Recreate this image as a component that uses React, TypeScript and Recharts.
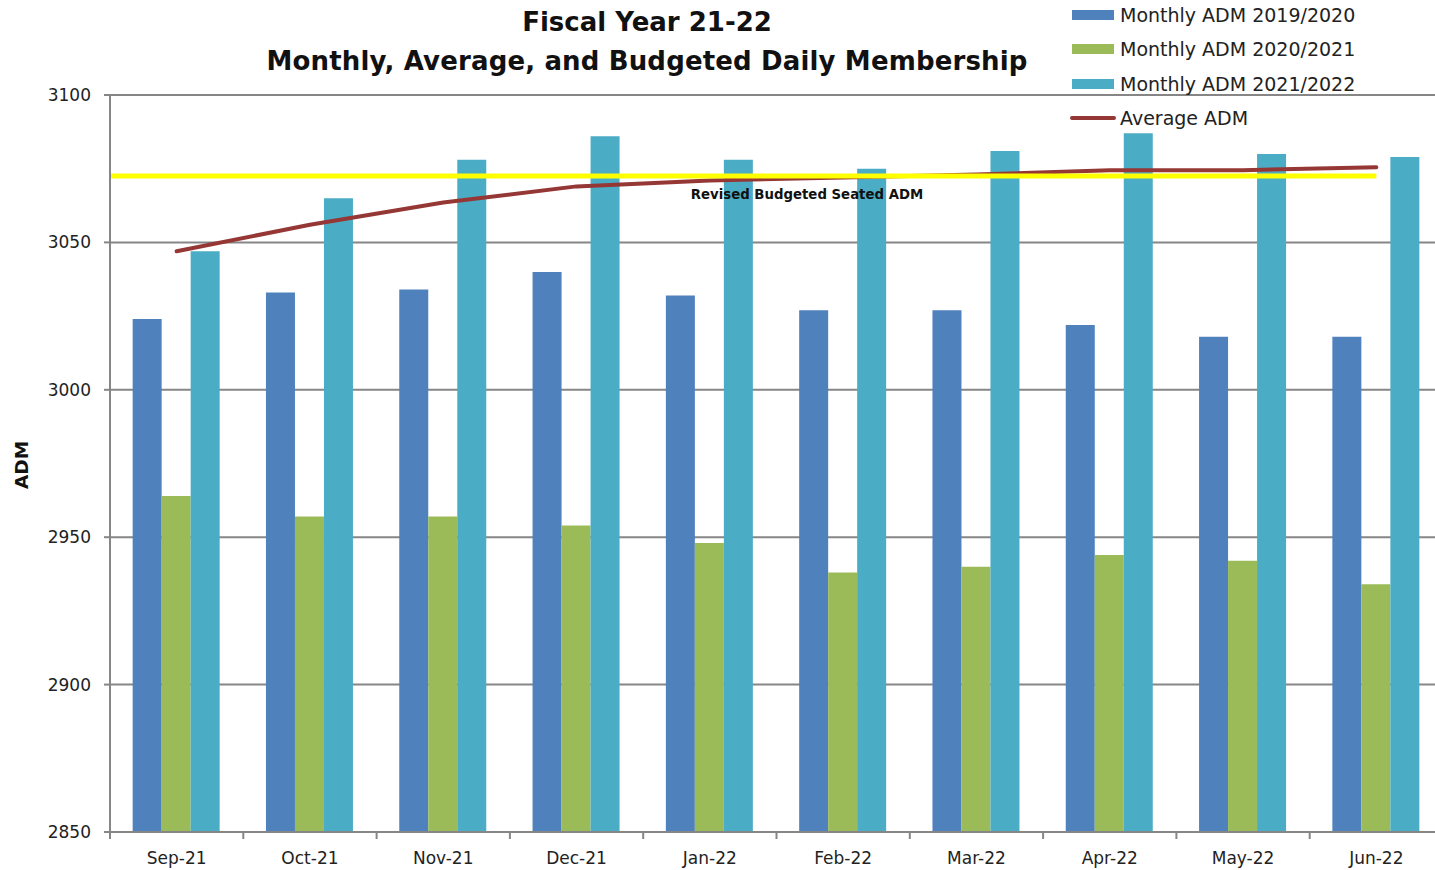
import { Bar, ComposedChart, Line, XAxis, YAxis, CartesianGrid, ReferenceLine } from "recharts"

const months = ["Sep-21", "Oct-21", "Nov-21", "Dec-21", "Jan-22", "Feb-22", "Mar-22", "Apr-22", "May-22", "Jun-22"]
const adm1920 = [3024, 3033, 3034, 3040, 3032, 3027, 3027, 3022, 3018, 3018]
const adm2021 = [2964, 2957, 2957, 2954, 2948, 2938, 2940, 2944, 2942, 2934]
const adm2122 = [3047, 3065, 3078, 3086, 3078, 3075, 3081, 3087, 3080, 3079]
const avgAdm = [3047, 3056, 3063.5, 3069, 3071, 3072, 3073, 3074.5, 3074.5, 3075.5]
const budgetAdm = 3072.5
const yTicks = [2850, 2900, 2950, 3000, 3050, 3100]

const data = months.map((m, i) => ({
  name: m,
  idx: i + 0.5,
  a: adm1920[i],
  b: adm2021[i],
  c: adm2122[i],
  avg: avgAdm[i],
}))

const legendItems = [
  { label: "Monthly ADM 2019/2020", color: "#4f81bd", kind: "bar" },
  { label: "Monthly ADM 2020/2021", color: "#9bbb59", kind: "bar" },
  { label: "Monthly ADM 2021/2022", color: "#4bacc6", kind: "bar" },
  { label: "Average ADM", color: "#953735", kind: "line" },
]

const W = 1445
const H = 870
const Y_W = 110
const M_RIGHT = 2
const BAND = (W - Y_W - M_RIGHT) / months.length
const FONT = "'DejaVu Sans', sans-serif"
const AXIS = "#868686"

// category ticks sit between the month groups, like the original
function XTick(props: any) {
  const { x, y, payload } = props
  return (
    <g>
      <line x1={x - BAND / 2} x2={x - BAND / 2} y1={y - 8} y2={y - 1} stroke={AXIS} strokeWidth={2} />
      <text x={x} y={y + 24} textAnchor="middle" fontSize={17} fill="#222" fontFamily={FONT}>
        {payload.value}
      </text>
    </g>
  )
}

export default function App() {
  return (
    <div style={{ position: "fixed", left: 0, top: 0, width: 1435, height: 870, overflow: "hidden", background: "#fff", fontFamily: FONT }}>
      <ComposedChart
        width={W}
        height={H}
        data={data}
        margin={{ top: 95, right: M_RIGHT, left: 0, bottom: 8 }}
        barCategoryGap="17%"
        barGap={0}
      >
        <CartesianGrid vertical={false} stroke={AXIS} strokeWidth={2} />
        <XAxis dataKey="name" tick={<XTick />} tickLine={false} axisLine={{ stroke: AXIS, strokeWidth: 2 }} height={30} interval={0} />
        <XAxis xAxisId="n" dataKey="idx" type="number" domain={[0, 10]} allowDataOverflow hide />
        <YAxis
          domain={[2850, 3100]}
          ticks={yTicks}
          width={Y_W}
          tickSize={6}
          tickMargin={13}
          tick={{ fontSize: 17, fill: "#222", fontFamily: FONT }}
          tickLine={{ stroke: AXIS, strokeWidth: 2 }}
          axisLine={{ stroke: AXIS, strokeWidth: 2 }}
          interval={0}
        />
        <Bar dataKey="a" fill="#4f81bd" isAnimationActive={false} />
        <Bar dataKey="b" fill="#9bbb59" isAnimationActive={false} />
        <Bar dataKey="c" fill="#4bacc6" isAnimationActive={false} />
        <Line
          dataKey="avg"
          type="linear"
          stroke="#953735"
          strokeWidth={4}
          strokeLinecap="round"
          dot={false}
          activeDot={false}
          isAnimationActive={false}
        />
        <ReferenceLine
          xAxisId="n"
          ifOverflow="visible"
          segment={[
            { x: 0, y: budgetAdm },
            { x: 9.5, y: budgetAdm },
          ]}
          stroke="#ffff00"
          strokeWidth={5}
        />
      </ComposedChart>

      <div style={{ position: "absolute", left: 0, top: 3, width: 1294, textAlign: "center", fontWeight: "bold", fontSize: 26, lineHeight: "39px", color: "#111" }}>
        <div>Fiscal Year 21-22</div>
        <div style={{ letterSpacing: 0.15 }}>Monthly, Average, and Budgeted Daily Membership</div>
      </div>

      <div
        style={{
          position: "absolute",
          left: 22 - 40,
          top: 465 - 12,
          width: 80,
          height: 24,
          lineHeight: "24px",
          textAlign: "center",
          transform: "rotate(-90deg)",
          fontWeight: "bold",
          fontSize: 18.5,
          color: "#111",
        }}
      >
        ADM
      </div>

      <div style={{ position: "absolute", left: 607, top: 185, width: 400, textAlign: "center", fontWeight: "bold", fontSize: 13.3, lineHeight: "20px", color: "#111" }}>
        Revised Budgeted Seated ADM
      </div>

      <div style={{ position: "absolute", left: 1070, top: 0 }}>
        {legendItems.map((it, i) => (
          <div key={it.label} style={{ position: "absolute", left: 0, top: 15 + i * 34.4 - 14, height: 28, width: 360, display: "flex", alignItems: "center" }}>
            {it.kind === "bar" ? (
              <div style={{ width: 42, height: 10, marginLeft: 2, marginRight: 6, background: it.color }} />
            ) : (
              <div style={{ width: 46, height: 4, borderRadius: 2, marginRight: 4, background: it.color }} />
            )}
            <span style={{ fontSize: 19, color: "#222", whiteSpace: "nowrap" }}>{it.label}</span>
          </div>
        ))}
      </div>
    </div>
  )
}
